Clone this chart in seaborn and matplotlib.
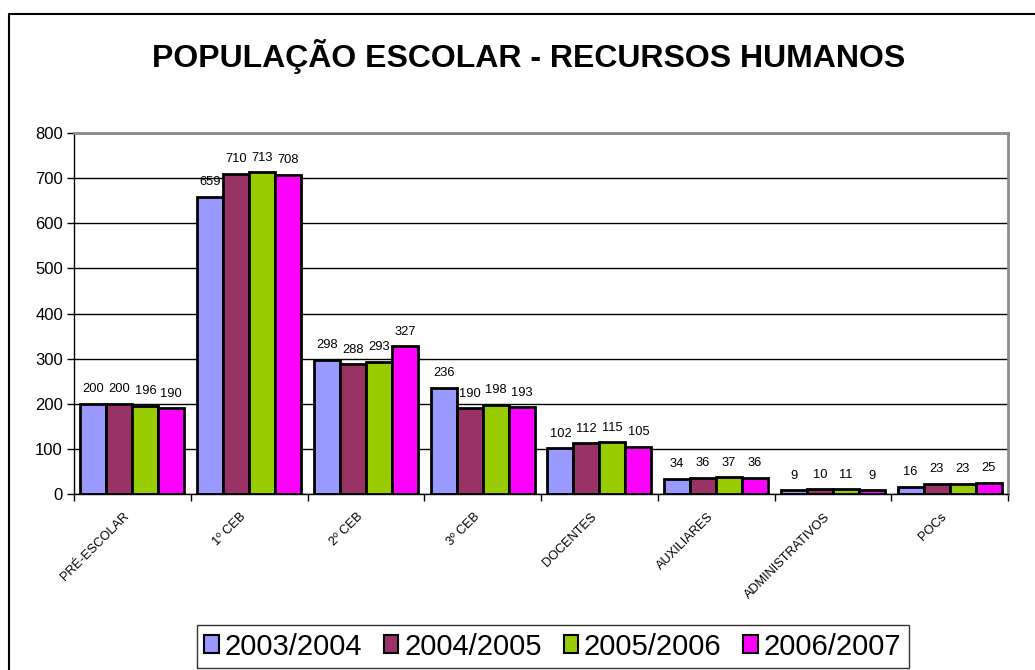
import matplotlib
matplotlib.use("Agg")
import matplotlib.pyplot as plt
import matplotlib.transforms as mtransforms
import seaborn as sns
import pandas as pd
import numpy as np
from matplotlib.lines import Line2D

categorias = ["PRÉ-ESCOLAR", "1º CEB", "2º CEB", "3º CEB", "DOCENTES",
              "AUXILIARES", "ADMINISTRATIVOS", "POCs"]
anos = ["2003/2004", "2004/2005", "2005/2006", "2006/2007"]
v_2003 = [200, 659, 298, 236, 102, 34, 9, 16]
v_2004 = [200, 710, 288, 190, 112, 36, 10, 23]
v_2005 = [196, 713, 293, 198, 115, 37, 11, 23]
v_2006 = [190, 708, 327, 193, 105, 36, 9, 25]
cores = ["#9999FF", "#993366", "#99CC00", "#FF00FF"]

sns.set_theme(style="white")
plt.rcParams["font.family"] = ["Liberation Sans", "DejaVu Sans"]
plt.rcParams["text.color"] = "black"
plt.rcParams["xtick.color"] = "black"
plt.rcParams["ytick.color"] = "black"

rows = []
for ano, vals in zip(anos, [v_2003, v_2004, v_2005, v_2006]):
    for cat, v in zip(categorias, vals):
        rows.append({"categoria": cat, "ano": ano, "valor": v})
df = pd.DataFrame(rows)

fig = plt.figure(figsize=(10.35, 6.70), dpi=100)
ax = fig.add_axes([74 / 1035, 1 - 494 / 670, (1008 - 74) / 1035, (494 - 133) / 670])

sns.barplot(data=df, x="categoria", y="valor", hue="ano", order=categorias,
            hue_order=anos, palette=cores, edgecolor="black", linewidth=2,
            width=0.89, gap=0, saturation=1, legend=False, ax=ax)

for cont in ax.containers:
    ax.bar_label(cont, padding=6, fontsize=9.3, color="black")

ax.set_ylim(0, 800)
ax.set_xlim(-0.5, len(categorias) - 0.5)
ax.set_yticks(range(0, 801, 100))
ax.yaxis.grid(True, color="black", linewidth=1)
ax.set_axisbelow(True)
ax.tick_params(axis="y", labelsize=12, length=5, width=1, color="black",
               direction="out", left=True, pad=3)
ax.set_xlabel("")
ax.set_ylabel("")

ax.set_xticks(np.arange(len(categorias)))
ax.set_xticklabels(categorias, rotation=45, ha="right", va="top",
                   rotation_mode="anchor", fontsize=9.2)
ax.tick_params(axis="x", which="major", length=0, pad=12)
ax.set_xticks(np.arange(len(categorias) + 1) - 0.5, minor=True)
ax.tick_params(axis="x", which="minor", length=5, width=1, color="black",
               direction="out", bottom=True)
desloc = mtransforms.ScaledTranslation(-9 / 100, 0, fig.dpi_scale_trans)
for lbl in ax.get_xticklabels():
    lbl.set_transform(lbl.get_transform() + desloc)

for s in ["top", "right"]:
    ax.spines[s].set_color("#8c8c8c")
    ax.spines[s].set_linewidth(2)
for s in ["left", "bottom"]:
    ax.spines[s].set_color("black")
    ax.spines[s].set_linewidth(1)

fig.text(0.511, 0.915, "POPULAÇÃO ESCOLAR - RECURSOS HUMANOS",
         ha="center", va="center", fontsize=23, fontweight="bold", color="black")

handles = [plt.Rectangle((0, 0), 1, 1, facecolor=c, edgecolor="black", linewidth=1.5)
           for c in cores]
leg = fig.legend(handles, anos, loc="center", bbox_to_anchor=(0.534, 0.035),
                 ncol=4, fontsize=21, frameon=True, fancybox=False,
                 edgecolor="black", handlelength=0.5, handleheight=0.55,
                 handletextpad=0.2, columnspacing=0.75, borderpad=0.25,
                 borderaxespad=0)
leg.get_frame().set_linewidth(1)

# moldura exterior
fig.add_artist(Line2D([9 / 1035, 1.0], [1 - 14 / 670, 1 - 14 / 670],
                      transform=fig.transFigure, color="black", linewidth=1.5))
fig.add_artist(Line2D([9 / 1035, 9 / 1035], [0, 1 - 14 / 670],
                      transform=fig.transFigure, color="black", linewidth=1.5))

fig.savefig("out.png", dpi=100, facecolor="white")
